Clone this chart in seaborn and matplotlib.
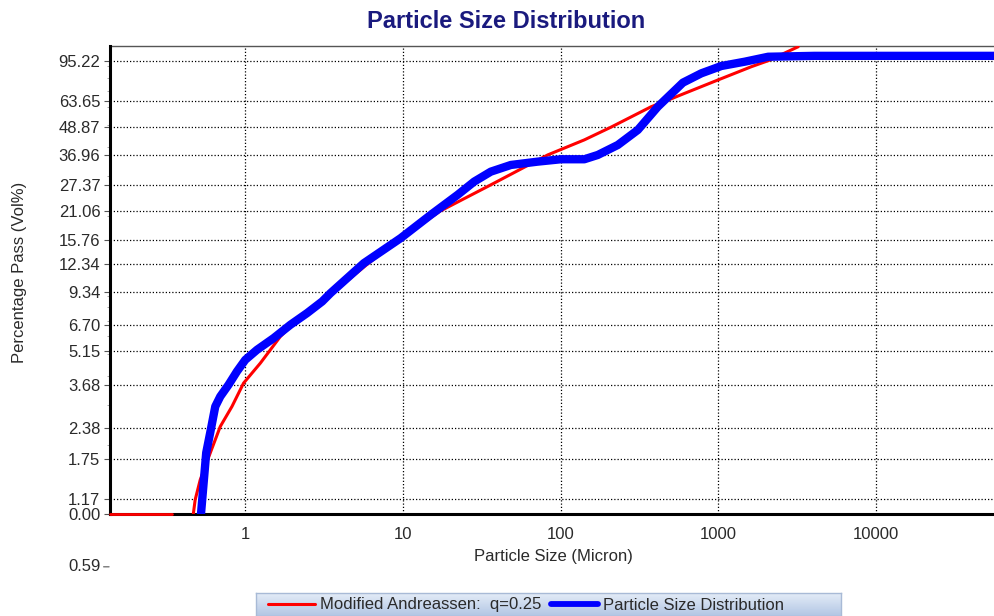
import numpy as np
import pandas as pd
import matplotlib
matplotlib.use("Agg")
import matplotlib.pyplot as plt
import seaborn as sns
from matplotlib import transforms
from matplotlib.ticker import FixedLocator, NullFormatter
from matplotlib.colors import LinearSegmentedColormap

# ---------------- data ----------------
title = "Particle Size Distribution"
x_label = "Particle Size (Micron)"
y_label = "Percentage Pass (Vol%)"

red_name = "Modified Andreassen:  q=0.25"
blue_name = "Particle Size Distribution"

red_size = [0.1386, 0.342, 0.465, 0.481, 0.518, 0.599, 0.694, 0.823, 0.975, 1.246,
            1.669, 2.237, 2.856, 3.64, 5.95, 9.39, 17.3, 36.1, 82.8, 141.5,
            209, 375.6, 468, 611.6, 997, 1624, 2073, 3216]
red_pass = [0, 0, 0.97, 1.158, 1.416, 1.85, 2.416, 2.953, 3.735, 4.566,
            5.965, 7.29, 8.34, 9.34, 12.34, 15.76, 21.06, 27.37, 36.96, 43.0,
            48.87, 60.0, 63.65, 68.6, 78.5, 89.7, 95.22, 109.6]

blue_size = [0.52, 0.565, 0.599, 0.645, 0.694, 0.783, 0.885, 1.0, 1.187, 1.513,
             1.932, 2.468, 3.073, 3.47, 5.65, 9.67, 15.0, 22.2, 28.3, 36.1,
             48.4, 71.5, 100.6, 141.5, 172.2, 230.7, 309, 414, 597, 781,
             1046, 1472, 2073, 4083, 57800]
blue_pass = [0.95, 1.856, 2.27, 2.953, 3.266, 3.673, 4.198, 4.72, 5.22, 5.87,
             6.71, 7.55, 8.48, 9.22, 12.46, 16.02, 20.24, 24.74, 28.27, 31.25,
             33.42, 34.55, 35.39, 35.39, 36.95, 40.85, 47.5, 60.0, 76.4, 83.9,
             90.3, 94.3, 99.1, 100, 100]

x_ticks = [1, 10, 100, 1000, 10000]
x_tick_labels = ["1", "10", "100", "1000", "10000"]
y_ticks = [1.0, 1.17, 1.75, 2.38, 3.68, 5.15, 6.70, 9.34, 12.34, 15.76,
           21.06, 27.37, 36.96, 48.87, 63.65, 95.22]
y_tick_labels = ["0.00", "1.17", "1.75", "2.38", "3.68", "5.15", "6.70", "9.34",
                 "12.34", "15.76", "21.06", "27.37", "36.96", "48.87", "63.65", "95.22"]
extra_y_tick = 0.59
extra_y_label = "0.59"

x_limits = (0.1386, 57800)
y_limits = (1.0, 110.4)

# ---------------- style ----------------
sns.set_style("white")
plt.rcParams["font.family"] = ["Liberation Sans", "DejaVu Sans"]
text_color = "#2a2a2a"

fig = plt.figure(figsize=(9.94, 6.16), dpi=100)
ax = fig.add_axes([110 / 994, 1 - 514.3 / 616, 1 - 110 / 994 + 0.002, 468.3 / 616])

floor = y_limits[0]
red_df = pd.DataFrame({"size": red_size, "pass": red_pass})
red_zero = red_df[red_df["pass"] == 0].assign(pass_plot=floor)
red_pos = red_df[red_df["pass"] > 0]
blue_df = pd.DataFrame({"size": blue_size, "pass": blue_pass})

sns.lineplot(data=red_zero, x="size", y="pass_plot", ax=ax, color="#ff0000", lw=2.0,
             estimator=None, sort=False, zorder=7, clip_on=False)
sns.lineplot(data=red_pos, x="size", y="pass", ax=ax, color="#ff0000", lw=2.2,
             estimator=None, sort=False, zorder=5, label=red_name)
sns.lineplot(data=blue_df, x="size", y="pass", ax=ax, color="#0000ff", lw=6,
             estimator=None, sort=False, zorder=6, label=blue_name)

ax.set_xscale("log")
ax.set_yscale("log")
ax.set_xlim(*x_limits)
ax.set_ylim(*y_limits)

ax.xaxis.set_major_locator(FixedLocator(x_ticks))
ax.set_xticklabels(x_tick_labels)
minor_x = [m * 10.0 ** k for k in range(-1, 5) for m in (3.2, 5.6, 8.0)]
ax.xaxis.set_minor_locator(FixedLocator(minor_x))
ax.xaxis.set_minor_formatter(NullFormatter())

ax.yaxis.set_major_locator(FixedLocator(y_ticks))
ax.set_yticklabels(y_tick_labels)
minor_y = [m * 10.0 ** k for k in range(0, 3) for m in range(2, 10)]
ax.yaxis.set_minor_locator(FixedLocator(minor_y))
ax.yaxis.set_minor_formatter(NullFormatter())

ax.tick_params(axis="x", which="major", length=0, pad=9, labelsize=12,
               labelcolor=text_color)
ax.tick_params(axis="x", which="minor", length=3.5, width=0.8, color="#777777",
               direction="out")
ax.tick_params(axis="y", which="major", length=4, width=0.8, pad=3, labelsize=12,
               labelcolor=text_color, color="#555555", left=True)
ax.tick_params(axis="y", which="minor", length=2, width=0.6, color="#999999", left=True)

ax.grid(True, which="major", axis="both", color="black",
        linestyle=(0, (1, 1.6)), linewidth=0.9)
ax.set_axisbelow(True)

for side in ("left", "bottom"):
    ax.spines[side].set_linewidth(2.2)
    ax.spines[side].set_color("black")
    ax.spines[side].set_zorder(4)
ax.spines["top"].set_linewidth(1.0)
ax.spines["top"].set_color("#555555")
ax.spines["right"].set_visible(False)

ax.set_xlabel(x_label, fontsize=12, color=text_color, labelpad=5)
ax.set_ylabel("")
fig.text(20 / 994, 1 - 272 / 616, y_label, rotation=90, ha="center", va="center",
         fontsize=12, color=text_color)
fig.text(506 / 994, 1 - 28.3 / 616, title, ha="center", va="baseline",
         fontsize=17, fontweight="bold", color="#1a1a7e")

# extra tick label below the plotting area
blend = transforms.blended_transform_factory(ax.transAxes, ax.transData)
ax.annotate(extra_y_label, xy=(0, extra_y_tick), xycoords=blend,
            xytext=(-7, 0), textcoords="offset points", ha="right", va="center",
            fontsize=12, color=text_color, annotation_clip=False)
ax.annotate("", xy=(-0.001, extra_y_tick), xycoords=blend,
            xytext=(-4, 0), textcoords="offset points",
            arrowprops=dict(arrowstyle="-", lw=0.8, color="#555555",
                            shrinkA=0, shrinkB=0), annotation_clip=False)

# legend background box (gradient)
gax = fig.add_axes([256 / 994, 0, (841 - 256) / 994, 1 - 593.4 / 616], zorder=4)
grad = np.linspace(0, 1, 64).reshape(-1, 1)
cmap = LinearSegmentedColormap.from_list("lg", ["#e4ecf7", "#b2c6e4"])
gax.imshow(grad, aspect="auto", cmap=cmap, origin="upper", extent=(0, 1, 0, 1))
gax.set_xticks([])
gax.set_yticks([])
for s in gax.spines.values():
    s.set_edgecolor("#a8bad6")
    s.set_linewidth(1.0)

handles, labels = ax.get_legend_handles_labels()
if ax.get_legend() is not None:
    ax.get_legend().remove()
leg = fig.legend(handles, labels, loc="center", bbox_to_anchor=(526 / 994, 1 - 605 / 616),
                 ncol=2, fontsize=12, frameon=False, handlelength=2.8,
                 handletextpad=0.3, columnspacing=0.6, borderpad=0.0, borderaxespad=0)
for t in leg.get_texts():
    t.set_color(text_color)
leg.legend_handles[1].set_linewidth(4.2)
leg.set_zorder(10)

fig.savefig("out.png", dpi=100)
